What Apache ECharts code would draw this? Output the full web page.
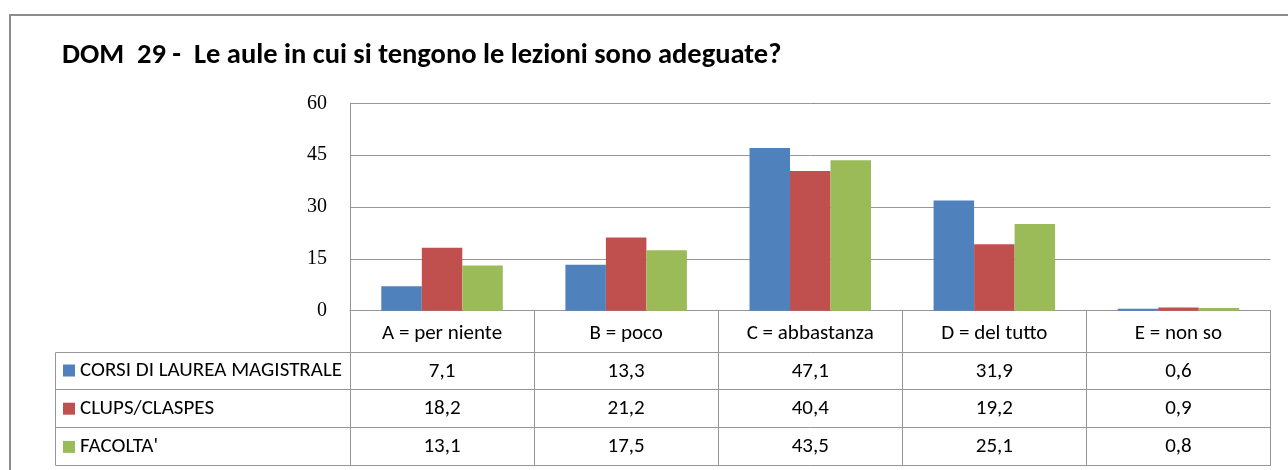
<!DOCTYPE html>
<html>
<head>
<meta charset="utf-8">
<script src="https://cdn.jsdelivr.net/npm/echarts@6/dist/echarts.min.js"></script>
<style>
    html, body { margin: 0; padding: 0; background: #fff; }
    #chart { width: 1288px; height: 470px; }
</style>
</head>
<body>
<div id="chart"></div>
<script>
var titleText = 'DOM  29 -  Le aule in cui si tengono le lezioni sono adeguate?';
var categories = ['A = per niente', 'B = poco', 'C = abbastanza', 'D = del tutto', 'E = non so'];
var seriesNames = ['CORSI DI LAUREA MAGISTRALE', 'CLUPS/CLASPES', "FACOLTA'"];
var corsiValues = [7.1, 13.3, 47.1, 31.9, 0.6];
var clupsValues = [18.2, 21.2, 40.4, 19.2, 0.9];
var facoltaValues = [13.1, 17.5, 43.5, 25.1, 0.8];
var colors = ['#4F81BD', '#C0504D', '#9BBB59'];

var FONT = "Carlito, 'Liberation Sans Narrow', 'DejaVu Sans Condensed', 'Liberation Sans', sans-serif";
var LINE = '#969696';

// valori con la virgola, come nella tabella dati di Excel
function fmt(v) {
    return v.toFixed(1).replace('.', ',');
}

// riga della tabella dati: asse categoria aggiuntivo spostato verso il basso
function tableAxis(values, offset) {
    return {
        type: 'category',
        gridIndex: 0,
        position: 'bottom',
        offset: offset,
        data: values ? values.map(fmt) : categories,
        axisLine: { show: true, lineStyle: { color: LINE, width: 1 } },
        axisTick: { show: false },
        axisLabel: {
            show: !!values,
            margin: 9,
            fontFamily: FONT,
            fontSize: 21,
            color: '#000'
        },
        splitLine: { show: false }
    };
}

var chart = echarts.init(document.getElementById('chart'), null, { renderer: 'canvas' });

var option = {
    animation: false,
    backgroundColor: '#fff',
    title: {
        text: titleText,
        left: 62,
        top: 41,
        padding: 0,
        textStyle: { fontFamily: FONT, fontSize: 28.5, fontWeight: 'bold', color: '#000' }
    },
    legend: {
        orient: 'vertical',
        left: 63,
        top: 359.5,
        padding: 0,
        icon: 'rect',
        itemWidth: 12,
        itemHeight: 12,
        itemGap: 16.2,
        data: seriesNames,
        textStyle: { fontFamily: FONT, fontSize: 21, color: '#000', lineHeight: 22 }
    },
    grid: { left: 350, right: 17.5, top: 103.3, bottom: 159.3, containLabel: false },
    xAxis: [
        {
            type: 'category',
            data: categories,
            axisLine: { show: true, lineStyle: { color: LINE, width: 1 } },
            axisTick: { show: true, length: 155, lineStyle: { color: LINE, width: 1 } },
            axisLabel: { margin: 13, fontFamily: FONT, fontSize: 21, color: '#000', interval: 0 },
            splitLine: { show: false }
        },
        tableAxis(corsiValues, 42),
        tableAxis(clupsValues, 79),
        tableAxis(facoltaValues, 117),
        tableAxis(null, 155)
    ],
    yAxis: {
        type: 'value',
        min: 0,
        max: 60,
        interval: 15,
        axisLine: { show: true, lineStyle: { color: LINE, width: 1 } },
        axisTick: { show: false },
        axisLabel: { margin: 23, fontFamily: "'Liberation Serif', serif", fontSize: 20, color: '#000' },
        splitLine: { show: true, lineStyle: { color: LINE, width: 1 } }
    },
    series: [
        { name: seriesNames[0], type: 'bar', data: corsiValues, itemStyle: { color: colors[0] }, barGap: '0%', barCategoryGap: '34%' },
        { name: seriesNames[1], type: 'bar', data: clupsValues, itemStyle: { color: colors[1] }, barGap: '0%', barCategoryGap: '34%' },
        { name: seriesNames[2], type: 'bar', data: facoltaValues, itemStyle: { color: colors[2] }, barGap: '0%', barCategoryGap: '34%' }
    ],
    graphic: [
        // cornice esterna
        { type: 'rect', shape: { x: 10, y: 15, width: 1300, height: 470 }, style: { fill: 'none', stroke: '#8c8c8c', lineWidth: 2 }, silent: true },
        // riquadro della legenda a sinistra della tabella
        { type: 'polyline', shape: { points: [[350, 352.5], [55.5, 352.5], [55.5, 465.5], [350, 465.5]] }, style: { fill: 'none', stroke: LINE, lineWidth: 1 }, silent: true },
        { type: 'line', shape: { x1: 55.5, y1: 389.5, x2: 350, y2: 389.5 }, style: { stroke: LINE, lineWidth: 1 }, silent: true },
        { type: 'line', shape: { x1: 55.5, y1: 427.5, x2: 350, y2: 427.5 }, style: { stroke: LINE, lineWidth: 1 }, silent: true }
    ]
};

chart.setOption(option);
</script>
</body>
</html>
